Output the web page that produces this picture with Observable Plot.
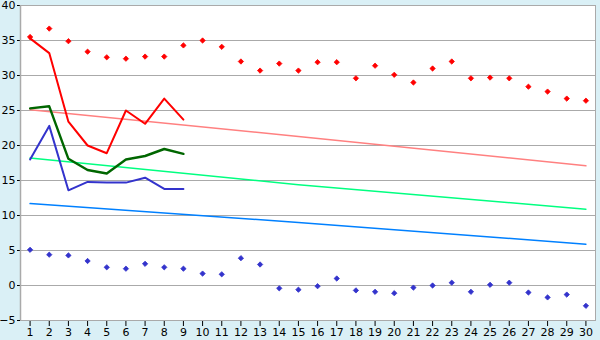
<!DOCTYPE html>
<html>
<head>
<meta charset="utf-8">
<script src="https://cdn.jsdelivr.net/npm/d3@7"></script>
<script src="https://cdn.jsdelivr.net/npm/@observablehq/plot@0.6"></script>
<style>
  html, body { margin: 0; padding: 0; background: #daf0f6; }
</style>
</head>
<body>
<div id="chart"></div>
<script>
const days = d3.range(1, 31);
const yTicks = [-5, 0, 5, 10, 15, 20, 25, 30, 35, 40];

const redDots = [35.5, 36.7, 34.9, 33.4, 32.6, 32.4, 32.7, 32.7, 34.3, 35.0,
                 34.1, 32.0, 30.7, 31.7, 30.7, 31.9, 31.9, 29.6, 31.4, 30.1,
                 29.0, 31.0, 32.0, 29.6, 29.7, 29.6, 28.4, 27.7, 26.7, 26.4];
const blueDots = [5.1, 4.4, 4.3, 3.5, 2.6, 2.4, 3.1, 2.6, 2.4, 1.7,
                  1.6, 3.9, 3.0, -0.4, -0.6, -0.1, 1.0, -0.7, -0.9, -1.1,
                  -0.3, 0.0, 0.4, -0.9, 0.1, 0.4, -1.0, -1.7, -1.3, -2.9];

const lineDays = [1, 2, 3, 4, 5, 6, 7, 8, 9];
const redLine = [35.3, 33.2, 23.4, 20.0, 18.9, 25.0, 23.1, 26.7, 23.7];
const greenLine = [25.3, 25.6, 18.1, 16.5, 16.0, 18.0, 18.5, 19.5, 18.8];
const blueLine = [18.0, 22.8, 13.6, 14.8, 14.7, 14.7, 15.4, 13.8, 13.8];

const trendDays = [1, 15, 30];
const pinkTrend = [25.1, 21.3, 17.1];
const greenTrend = [18.2, 14.4, 10.9];
const blueTrend = [11.7, 9.0, 5.9];

const toRows = (xs, ys) => xs.map((x, i) => ({x, y: ys[i]}));

const chart = Plot.plot({
  width: 600,
  height: 340,
  marginTop: 5,
  marginRight: 5,
  marginBottom: 20,
  marginLeft: 20,
  style: {background: "#daf0f6", fontFamily: "DejaVu Sans, Verdana, sans-serif", fontSize: "11px", color: "#000"},
  x: {domain: [0.5, 30.5], ticks: days, tickSize: 6, tickPadding: 2, label: null, tickFormat: d => String(d)},
  y: {domain: [-5, 40], ticks: yTicks, tickSize: 3, tickPadding: 2, label: null},
  marks: [
    Plot.frame({fill: "white", stroke: "#aaaaaa"}),
    Plot.ruleY(yTicks, {stroke: "#aaaaaa", strokeWidth: 1}),
    Plot.ruleX([0.5], {stroke: "#aaaaaa", strokeWidth: 1.5}),
    Plot.line(toRows(trendDays, pinkTrend), {x: "x", y: "y", stroke: "#ff8080", strokeWidth: 1.5}),
    Plot.line(toRows(trendDays, greenTrend), {x: "x", y: "y", stroke: "#00ff80", strokeWidth: 1.5}),
    Plot.line(toRows(trendDays, blueTrend), {x: "x", y: "y", stroke: "#0080ff", strokeWidth: 1.5}),
    Plot.line(toRows(lineDays, redLine), {x: "x", y: "y", stroke: "#ff0000", strokeWidth: 2}),
    Plot.line(toRows(lineDays, greenLine), {x: "x", y: "y", stroke: "#006600", strokeWidth: 2.4}),
    Plot.line(toRows(lineDays, blueLine), {x: "x", y: "y", stroke: "#3333cc", strokeWidth: 2}),
    Plot.dot(toRows(days, redDots), {x: "x", y: "y", symbol: "diamond2", r: 2.4, fill: "#ff0000", stroke: "#ff0000", strokeWidth: 0.8}),
    Plot.dot(toRows(days, blueDots), {x: "x", y: "y", symbol: "diamond2", r: 2.4, fill: "#3333cc", stroke: "#3333cc", strokeWidth: 0.8})
  ]
});
document.getElementById("chart").appendChild(chart);
</script>
</body>
</html>
